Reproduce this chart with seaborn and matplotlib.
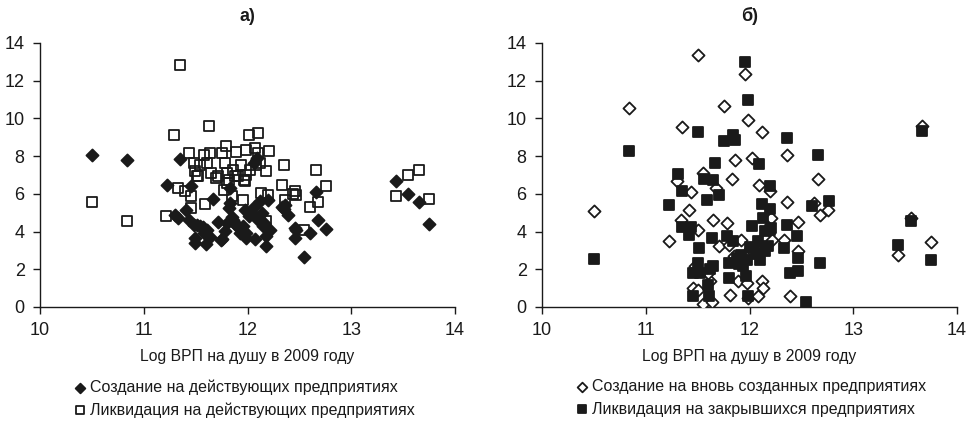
import matplotlib
matplotlib.use('Agg')
import matplotlib.pyplot as plt
import seaborn as sns
import pandas as pd

# panel a) - existing enterprises
ce_x = [10.50, 10.84, 11.22, 11.35, 11.46, 11.41, 11.30, 11.33, 11.67, 11.44,
        11.48, 11.54, 11.49, 11.49, 11.60, 11.64, 11.61, 11.58, 11.72, 11.75,
        11.78, 11.80, 11.82, 11.83, 11.83, 11.86, 11.90, 11.93, 11.96, 11.99,
        11.99, 12.01, 11.98, 12.04, 12.07, 12.10, 12.12, 12.14, 12.15, 12.18,
        12.18, 12.20, 12.22, 12.09, 12.06, 12.33, 12.36, 12.39, 12.46, 12.46,
        12.47, 12.54, 12.60, 12.66, 12.68, 12.76, 13.43, 13.55, 13.65, 13.75,
        11.51, 11.57, 11.74, 11.85, 11.88, 11.91, 12.06, 12.12, 12.16, 12.35]
ce_y = [8.08, 7.81, 6.47, 7.87, 6.40, 5.16, 4.90, 4.72, 5.73, 4.63,
        4.37, 4.28, 3.66, 3.39, 3.36, 3.71, 4.10, 3.92, 4.49, 3.61,
        4.01, 4.45, 5.25, 5.52, 6.31, 4.63, 4.28, 3.92, 4.28, 3.92,
        3.66, 4.81, 5.16, 4.98, 3.61, 4.63, 5.60, 4.98, 4.28, 3.75,
        3.22, 5.69, 4.10, 7.90, 7.64, 5.30, 5.43, 4.90, 4.19, 3.66,
        4.10, 2.65, 3.92, 6.08, 4.63, 4.15, 6.66, 5.99, 5.55, 4.42,
        4.35, 4.26, 3.55, 4.75, 4.40, 4.30, 5.28, 4.60, 4.45, 5.20]

le_x = [10.50, 10.84, 11.35, 11.29, 11.63, 11.21, 11.33, 11.40, 11.44, 11.46,
        11.46, 11.48, 11.49, 11.51, 11.54, 11.58, 11.61, 11.59, 11.64, 11.65,
        11.70, 11.75, 11.79, 11.78, 11.80, 11.77, 11.82, 11.85, 11.86, 11.89,
        11.91, 11.94, 11.96, 11.98, 11.99, 12.01, 11.99, 12.02, 12.07, 12.10,
        12.10, 12.12, 12.13, 12.18, 12.21, 12.20, 12.18, 12.35, 12.33, 12.36,
        12.46, 12.47, 12.54, 12.60, 12.66, 12.68, 12.76, 13.43, 13.55, 13.65,
        13.75, 11.52, 11.72, 11.80, 11.97, 12.08, 11.88, 12.44]
le_y = [5.57, 4.54, 12.85, 9.10, 9.62, 4.81, 6.31, 6.13, 8.17, 5.87,
        5.25, 7.64, 7.19, 6.93, 7.55, 8.08, 7.64, 5.48, 8.17, 7.11,
        6.84, 8.17, 8.56, 7.64, 7.11, 6.22, 6.75, 5.87, 7.28, 8.22,
        6.93, 7.55, 5.69, 6.66, 7.02, 9.10, 8.34, 7.28, 8.43, 9.23,
        8.17, 7.64, 6.05, 7.19, 8.29, 5.96, 4.54, 7.51, 6.45, 5.69,
        6.13, 5.96, 4.10, 5.30, 7.25, 5.57, 6.40, 5.87, 6.98, 7.28,
        5.75, 6.95, 6.95, 6.60, 6.75, 7.55, 6.95, 6.00]

# panel б) - new / closed enterprises
cn_x = [10.50, 10.84, 11.50, 11.35, 11.22, 11.30, 11.34, 11.42, 11.44, 11.50,
        11.46, 11.50, 11.55, 11.64, 11.47, 11.62, 11.55, 11.65, 11.68, 11.71,
        11.75, 11.78, 11.81, 11.83, 11.86, 11.89, 11.92, 11.96, 11.99, 11.98,
        11.99, 12.02, 12.08, 12.09, 12.12, 12.12, 12.13, 12.15, 12.20, 12.21,
        12.22, 12.33, 12.36, 12.36, 12.39, 12.47, 12.47, 12.66, 12.68, 12.76,
        13.43, 13.56, 13.66, 13.75, 12.62, 11.85, 11.95, 12.05, 11.80, 12.00,
        11.60]
cn_y = [5.07, 10.55, 13.35, 9.53, 3.52, 6.66, 4.63, 5.16, 6.10, 4.10,
        1.00, 0.92, 0.18, 0.25, 2.16, 1.36, 7.10, 4.63, 6.31, 3.22,
        10.68, 4.45, 0.65, 6.79, 7.78, 1.36, 3.57, 12.36, 9.93, 1.27,
        0.48, 7.90, 0.57, 6.49, 9.28, 1.36, 1.00, 3.66, 6.13, 4.72,
        3.57, 3.54, 8.04, 5.55, 0.57, 4.49, 2.95, 6.79, 4.90, 5.13,
        2.78, 4.72, 9.62, 3.43, 5.52, 2.70, 2.60, 2.90, 3.30, 3.10,
        1.80]

lc_x = [10.50, 10.84, 11.22, 11.31, 11.35, 11.35, 11.42, 11.44, 11.50, 11.51,
        11.50, 11.46, 11.46, 11.52, 11.56, 11.59, 11.60, 11.61, 11.64, 11.65,
        11.65, 11.67, 11.71, 11.75, 11.78, 11.80, 11.80, 11.84, 11.86, 11.84,
        11.88, 11.92, 11.96, 11.94, 11.97, 11.99, 11.99, 12.02, 12.04, 12.09,
        12.10, 12.12, 12.13, 12.15, 12.20, 12.20, 12.20, 12.18, 12.15, 12.21,
        12.33, 12.36, 12.36, 12.39, 12.46, 12.47, 12.47, 12.54, 12.60, 12.66,
        12.68, 12.77, 13.43, 13.56, 13.66, 13.75, 12.00, 12.06, 11.90, 12.08,
        11.62, 11.98]
lc_y = [2.55, 8.29, 5.43, 7.07, 6.17, 4.24, 3.84, 4.24, 9.28, 3.13,
        2.33, 1.80, 0.57, 1.80, 6.79, 5.69, 1.18, 0.57, 3.66, 6.75,
        2.16, 7.64, 5.96, 8.79, 3.75, 1.54, 2.33, 9.14, 8.87, 3.48,
        2.60, 2.78, 12.97, 2.16, 1.63, 10.96, 0.57, 4.28, 3.13, 7.60,
        2.51, 5.48, 4.72, 2.95, 6.40, 5.20, 4.10, 3.22, 4.01, 4.19,
        3.13, 8.96, 4.33, 1.80, 3.75, 1.89, 2.60, 0.25, 5.37, 8.08,
        2.33, 5.60, 3.31, 4.54, 9.35, 2.51, 3.20, 2.80, 2.30, 3.50,
        2.00, 2.50]

x_ticks = [10, 11, 12, 13, 14]
y_ticks = [0, 2, 4, 6, 8, 10, 12, 14]
xlabel = 'Log ВРП на душу в 2009 году'

sns.set_style('ticks')
plt.rcParams['font.family'] = ['Liberation Sans', 'DejaVu Sans']

ink = '#1a1a1a'
fig = plt.figure(figsize=(9.71, 4.24), dpi=100)
ax1 = fig.add_axes([0.0412, 0.276, 0.4274, 0.6226])
ax2 = fig.add_axes([0.5582, 0.276, 0.4274, 0.6226])


def panel(ax, title, s1, s2):
    for (x, y, marker, face, label, size) in (s1, s2):
        sns.scatterplot(x=x, y=y, marker=marker, s=size, color=ink,
                        facecolor=face, edgecolor=ink, linewidth=1.3,
                        label=label, ax=ax, zorder=3)
    ax.set_xlim(10, 14)
    ax.set_ylim(0, 14)
    ax.set_xticks(x_ticks)
    ax.set_yticks(y_ticks)
    ax.tick_params(axis='both', labelsize=13, length=5, width=1, color=ink,
                   labelcolor=ink, pad=6)
    for side in ['top', 'right']:
        ax.spines[side].set_visible(False)
    for side in ['left', 'bottom']:
        ax.spines[side].set_color(ink)
        ax.spines[side].set_linewidth(1)
    ax.set_xlabel(xlabel, fontsize=11.3, color=ink, labelpad=7)
    ax.set_ylabel('')
    ax.set_title(title, fontsize=13, fontweight='bold', color=ink, pad=16)
    ax.legend(loc='upper left', bbox_to_anchor=(0.062, -0.25), frameon=False,
              fontsize=11.5, handletextpad=0.1, handlelength=1.0,
              labelspacing=0.45, borderaxespad=0, markerscale=0.8,
              labelcolor=ink)


panel(ax1, 'а)',
      (ce_x, ce_y, 'D', ink, 'Создание на действующих предприятиях', 38),
      (le_x, le_y, 's', 'none', 'Ликвидация на действующих предприятиях', 52))
panel(ax2, 'б)',
      (cn_x, cn_y, 'D', 'white', 'Создание на вновь созданных предприятиях', 38),
      (lc_x, lc_y, 's', ink, 'Ликвидация на закрывшихся предприятиях', 58))

plt.savefig('out.png', dpi=100)
